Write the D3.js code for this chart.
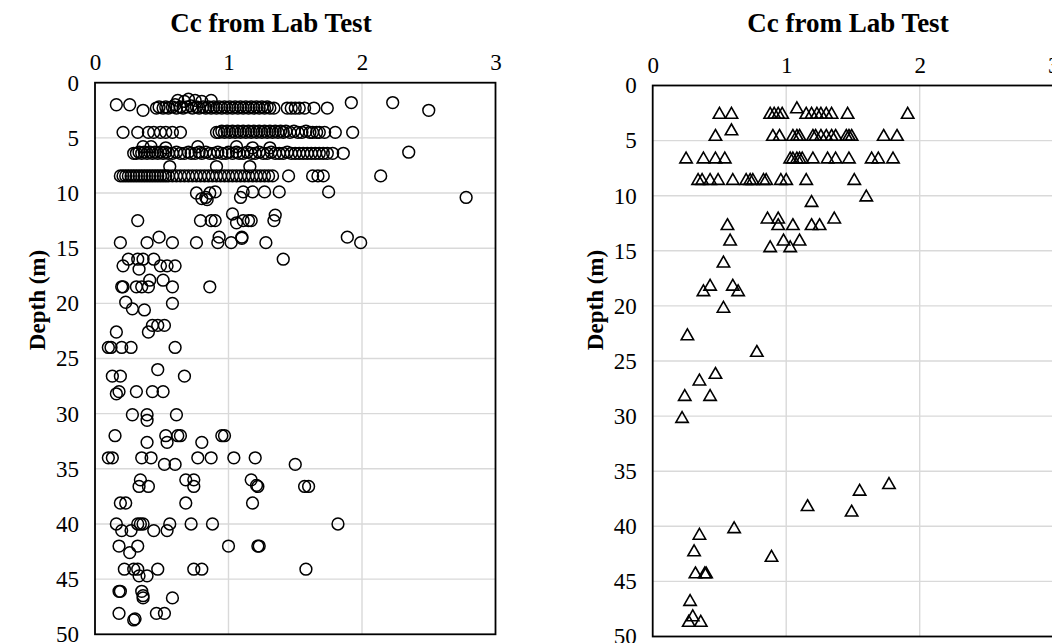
<!DOCTYPE html>
<html>
<head>
<meta charset="utf-8">
<script src="https://cdn.jsdelivr.net/npm/d3@7"></script>
<style>
  html, body { margin: 0; padding: 0; background: #fff; }
  svg { display: block; }
</style>
</head>
<body>
<svg id="chart" width="1052" height="643"></svg>
<script>
// ---------- DATA ----------
const xTicks = [0, 1, 2, 3];
const yTicks = [0, 5, 10, 15, 20, 25, 30, 35, 40, 45, 50];
const chartTitle = "Cc from Lab Test";
const yTitle = "Depth (m)";

// Left panel: [Cc, depth (m)]
const labCircles = [
  // ~2 m
  [0.16,2.0],[0.26,2.0],[0.36,2.5],[0.46,2.3],[0.48,2.2],[0.51,2.3],[0.53,2.2],[0.55,2.3],[0.58,2.2],[0.60,2.0],
  [0.62,1.6],[0.61,2.3],[0.64,2.2],[0.66,2.3],[0.67,1.7],[0.69,2.2],[0.70,1.5],[0.72,2.1],[0.73,2.3],[0.75,1.6],
  [0.76,2.2],[0.78,2.3],[0.80,1.7],[0.81,2.2],[0.83,2.3],[0.85,2.2],[0.87,1.6],[0.87,2.3],[0.89,2.2],[0.91,2.3],
  [0.93,2.2],[0.95,2.3],[0.97,2.2],[0.99,2.3],[1.01,2.2],[1.03,2.3],[1.05,2.2],[1.07,2.3],[1.09,2.2],[1.11,2.3],
  [1.13,2.2],[1.15,2.3],[1.17,2.2],[1.19,2.3],[1.21,2.2],[1.23,2.3],[1.25,2.2],[1.27,2.3],[1.29,2.2],[1.31,2.3],
  [1.34,2.3],[1.44,2.3],[1.47,2.3],[1.50,2.3],[1.53,2.3],[1.57,2.3],[1.64,2.3],[1.74,2.3],
  [1.92,1.8],[2.23,1.8],[2.50,2.5],
  // ~4.5 m
  [0.21,4.5],[0.32,4.5],[0.40,4.5],[0.44,4.5],[0.49,4.5],[0.53,4.5],[0.58,4.5],[0.64,4.5],[0.91,4.5],[0.93,4.5],
  [0.95,4.4],[0.97,4.5],[0.99,4.4],[1.01,4.5],[1.03,4.4],[1.05,4.5],[1.07,4.4],[1.09,4.5],[1.11,4.4],[1.13,4.5],
  [1.15,4.4],[1.17,4.5],[1.19,4.4],[1.21,4.5],[1.23,4.4],[1.25,4.5],[1.27,4.4],[1.29,4.5],[1.31,4.4],[1.33,4.5],
  [1.35,4.4],[1.37,4.5],[1.39,4.4],[1.41,4.5],[1.43,4.4],[1.46,4.5],[1.49,4.4],[1.52,4.5],[1.55,4.5],[1.58,4.4],
  [1.61,4.5],[1.63,4.5],[1.66,4.5],[1.68,4.5],[1.72,4.5],[1.80,4.5],[1.93,4.5],
  // ~6.4 m
  [0.29,6.4],[0.31,6.4],[0.33,6.3],[0.36,5.8],[0.35,6.4],[0.37,6.3],[0.39,6.4],[0.41,6.3],[0.42,5.8],[0.43,6.4],
  [0.45,6.3],[0.47,6.4],[0.49,6.3],[0.51,6.4],[0.53,5.9],[0.53,6.3],[0.55,6.4],[0.58,6.4],[0.61,6.3],[0.64,6.4],
  [0.67,6.4],[0.70,6.3],[0.72,6.4],[0.75,6.4],[0.77,5.8],[0.78,6.3],[0.80,6.4],[0.83,6.3],[0.86,6.4],[0.89,6.4],
  [0.92,6.3],[0.95,6.4],[0.98,6.4],[1.00,6.3],[1.03,6.4],[1.06,5.8],[1.06,6.3],[1.08,6.4],[1.11,6.4],[1.14,6.3],
  [1.18,5.9],[1.17,6.4],[1.20,6.4],[1.23,6.3],[1.26,6.4],[1.29,6.4],[1.31,5.9],[1.32,6.3],[1.35,6.4],[1.38,6.4],
  [1.41,6.4],[1.44,6.3],[1.47,6.4],[1.50,6.4],[1.53,6.4],[1.56,6.4],[1.59,6.4],[1.62,6.4],[1.65,6.4],[1.68,6.4],
  [1.71,6.4],[1.74,6.4],[1.78,6.4],[1.86,6.4],[2.35,6.3],
  // ~8.4 m
  [0.19,8.45],[0.21,8.45],[0.23,8.45],[0.25,8.45],[0.27,8.45],[0.29,8.45],[0.31,8.45],[0.33,8.45],[0.35,8.45],[0.37,8.45],
  [0.39,8.45],[0.41,8.45],[0.43,8.45],[0.45,8.45],[0.47,8.45],[0.49,8.45],[0.51,8.45],[0.53,8.45],[0.56,7.6],[0.55,8.45],
  [0.58,8.45],[0.61,8.45],[0.64,8.45],[0.67,8.45],[0.70,8.45],[0.73,8.45],[0.76,8.45],[0.79,8.45],[0.82,8.45],[0.85,8.45],
  [0.88,8.45],[0.91,7.6],[0.91,8.45],[0.94,8.45],[0.97,8.45],[1.00,8.45],[1.03,8.45],[1.06,8.45],[1.09,8.45],[1.12,8.45],
  [1.16,7.6],[1.15,8.45],[1.18,8.45],[1.21,8.45],[1.24,8.45],[1.27,8.45],[1.30,8.45],[1.33,8.45],[1.45,8.45],[1.63,8.45],
  [1.67,8.45],[1.71,8.45],[2.14,8.45],
  // ~10 m
  [0.76,10.0],[0.80,10.5],[0.83,10.4],[0.86,10.0],[0.90,9.9],[0.84,10.6],[1.09,10.4],[1.11,9.9],[1.18,9.9],[1.27,9.9],
  [1.38,9.9],[1.75,9.9],[2.78,10.4],
  [0.32,12.5],[0.79,12.5],[0.87,12.5],[0.90,12.5],[1.03,11.9],[1.06,12.7],[1.11,12.5],[1.15,12.5],[1.17,12.5],[1.35,12.0],
  [1.34,12.5],
  [0.19,14.5],[0.39,14.5],[0.48,14.0],[0.58,14.5],[0.76,14.5],[0.93,14.0],[0.92,14.5],[1.02,14.5],[1.10,14.0],[1.10,14.1],
  [1.28,14.5],[1.89,14.0],[1.99,14.5],[1.41,16.0],
  [0.25,16.0],[0.21,16.6],[0.32,16.0],[0.36,16.0],[0.33,16.9],[0.44,16.0],[0.49,16.6],[0.54,16.6],[0.60,16.6],
  [0.20,18.5],[0.21,18.5],[0.31,18.5],[0.35,18.5],[0.40,18.5],[0.41,17.9],[0.51,17.9],[0.58,18.5],[0.86,18.5],
  [0.23,19.9],[0.28,20.5],[0.37,20.6],[0.58,20.0],
  [0.16,22.6],[0.40,22.6],[0.43,22.0],[0.47,22.0],[0.52,22.0],
  [0.10,24.0],[0.12,24.0],[0.20,24.0],[0.27,24.0],[0.60,24.0],
  [0.13,26.6],[0.19,26.6],[0.47,26.0],[0.67,26.6],
  [0.16,28.2],[0.18,28.0],[0.31,28.0],[0.43,28.0],[0.51,28.0],
  [0.28,30.1],[0.39,30.1],[0.39,30.6],[0.61,30.1],
  [0.15,32.0],[0.39,32.6],[0.53,32.0],[0.54,32.6],[0.62,32.0],[0.64,32.0],[0.80,32.6],[0.95,32.0],[0.97,32.0],
  [0.10,34.0],[0.13,34.0],[0.35,34.0],[0.42,34.0],[0.52,34.6],[0.60,34.6],[0.77,34.0],[0.87,34.0],[1.04,34.0],[1.20,34.0],
  [1.50,34.6],
  [0.34,36.0],[0.33,36.6],[0.40,36.6],[0.68,36.0],[0.74,36.0],[0.74,36.6],[1.17,36.0],[1.21,36.5],[1.22,36.6],[1.57,36.6],
  [1.60,36.6],
  [0.19,38.1],[0.23,38.1],[0.68,38.1],[1.18,38.1],
  [0.16,40.0],[0.20,40.6],[0.27,40.6],[0.32,40.0],[0.34,40.0],[0.36,40.0],[0.44,40.6],[0.54,40.6],[0.56,40.0],[0.72,40.0],
  [0.88,40.0],[1.82,40.0],
  [0.18,42.0],[0.26,42.6],[0.32,42.0],[1.00,42.0],[1.22,42.0],[1.23,42.0],
  [0.22,44.1],[0.29,44.1],[0.32,44.1],[0.33,44.7],[0.39,44.7],[0.47,44.1],[0.74,44.1],[0.80,44.1],[1.58,44.1],
  [0.18,46.1],[0.19,46.1],[0.35,46.1],[0.36,46.7],[0.36,46.5],[0.58,46.7],
  [0.18,48.1],[0.29,48.7],[0.30,48.6],[0.46,48.1],[0.52,48.1]
];

// Right panel: [Cc, depth (m)]
const labTriangles = [
  [0.50,2.5],[0.59,2.5],[0.88,2.5],[0.91,2.5],[0.94,2.5],[0.97,2.5],[1.08,2.0],[1.15,2.5],[1.19,2.5],[1.23,2.5],
  [1.26,2.5],[1.30,2.5],[1.34,2.5],[1.46,2.5],[1.91,2.5],
  [0.47,4.5],[0.59,4.0],[0.90,4.5],[0.95,4.5],[1.05,4.5],[1.08,4.5],[1.10,4.5],[1.20,4.5],[1.22,4.5],[1.26,4.5],
  [1.30,4.5],[1.34,4.5],[1.37,4.5],[1.45,4.5],[1.47,4.5],[1.49,4.5],[1.73,4.5],[1.83,4.5],
  [0.25,6.55],[0.38,6.55],[0.47,6.55],[0.54,6.55],[1.03,6.55],[1.05,6.55],[1.08,6.55],[1.10,6.55],[1.12,6.55],[1.20,6.55],
  [1.31,6.55],[1.37,6.55],[1.47,6.55],[1.64,6.55],[1.69,6.55],[1.80,6.55],
  [0.34,8.5],[0.37,8.5],[0.43,8.5],[0.49,8.5],[0.60,8.5],[0.70,8.5],[0.73,8.5],[0.75,8.5],[0.83,8.5],[0.85,8.5],
  [0.96,8.5],[1.00,8.5],[1.15,8.5],[1.51,8.5],
  [1.60,10.0],[1.19,10.5],
  [0.86,12.0],[0.94,12.0],[0.94,12.6],[1.05,12.6],[1.19,12.6],[1.25,12.6],[1.36,12.0],[0.56,12.6],
  [0.58,14.0],[0.88,14.6],[0.98,14.0],[1.03,14.6],[1.10,14.0],[0.53,16.0],
  [0.43,18.1],[0.38,18.6],[0.60,18.1],[0.64,18.6],[0.53,20.1],[0.26,22.6],[0.78,24.1],
  [0.47,26.1],[0.35,26.7],[0.24,28.1],[0.43,28.1],[0.22,30.1],
  [1.77,36.1],[1.55,36.7],[1.16,38.1],[1.49,38.6],
  [0.61,40.1],[0.35,40.7],[0.31,42.2],[0.89,42.7],[0.32,44.2],[0.39,44.2],[0.40,44.2],
  [0.28,46.7],[0.30,48.1],[0.27,48.6],[0.36,48.6]
];

// ---------- DRAW ----------
const svg = d3.select("#chart");
const FONT = "'Liberation Serif', 'Times New Roman', serif";

const panels = [
  { data: labCircles, marker: "circle",   x0: 95,    x1: 495.5,  y0: 82.7, y1: 634.3, titleX: 271, yTitleX: 40 },
  { data: labTriangles, marker: "triangle", x0: 652.7, x1: 1053.2, y0: 85.5, y1: 636.5, titleX: 848, yTitleX: 598 }
];

panels.forEach(p => {
  const x = d3.scaleLinear().domain([0, 3]).range([p.x0, p.x1]);
  const y = d3.scaleLinear().domain([0, 50]).range([p.y0, p.y1]);
  const g = svg.append("g");

  // gridlines
  g.append("g").selectAll("line").data(xTicks.filter(t => t > 0 && t < 3)).join("line")
    .attr("x1", d => x(d)).attr("x2", d => x(d)).attr("y1", p.y0).attr("y2", p.y1)
    .attr("stroke", "#d9d9d9").attr("stroke-width", 1.4);
  g.append("g").selectAll("line").data(yTicks.filter(t => t > 0 && t < 50)).join("line")
    .attr("x1", p.x0).attr("x2", p.x1).attr("y1", d => y(d)).attr("y2", d => y(d))
    .attr("stroke", "#d9d9d9").attr("stroke-width", 1.4);

  // axes (labels only)
  const xAxis = d3.axisTop(x).tickValues(xTicks).tickSize(0).tickPadding(13).tickFormat(d3.format("d"));
  const gx = g.append("g").attr("transform", `translate(0,${p.y0})`).call(xAxis);
  gx.select(".domain").remove();
  gx.selectAll("text").attr("font-family", FONT).attr("font-size", 23).attr("fill", "#000");

  const yAxis = d3.axisLeft(y).tickValues(yTicks).tickSize(0).tickPadding(16).tickFormat(d3.format("d"));
  const gy = g.append("g").attr("transform", `translate(${p.x0},0)`).call(yAxis);
  gy.select(".domain").remove();
  gy.selectAll("text").attr("font-family", FONT).attr("font-size", 23).attr("fill", "#000");

  // markers
  const mg = g.append("g");
  if (p.marker === "circle") {
    mg.selectAll("circle").data(p.data).join("circle")
      .attr("cx", d => x(d[0])).attr("cy", d => y(d[1])).attr("r", 5.9)
      .attr("fill", "none").attr("stroke", "#000").attr("stroke-width", 1.5);
  } else {
    const tri = "M0,-5.6L6.2,5.2L-6.2,5.2Z";
    mg.selectAll("path").data(p.data).join("path")
      .attr("d", tri).attr("transform", d => `translate(${x(d[0])},${y(d[1])})`)
      .attr("fill", "none").attr("stroke", "#000").attr("stroke-width", 1.6).attr("stroke-linejoin", "miter");
  }

  // border
  g.append("rect").attr("x", p.x0).attr("y", p.y0).attr("width", p.x1 - p.x0).attr("height", p.y1 - p.y0)
    .attr("fill", "none").attr("stroke", "#000").attr("stroke-width", 1.8);

  // titles
  g.append("text").attr("x", p.titleX).attr("y", 32).attr("text-anchor", "middle")
    .attr("font-family", FONT).attr("font-weight", "bold").attr("font-size", 27).text(chartTitle);
  g.append("text").attr("transform", `translate(${p.yTitleX},300) rotate(-90)`).attr("text-anchor", "middle")
    .attr("dominant-baseline", "middle")
    .attr("font-family", FONT).attr("font-weight", "bold").attr("font-size", 23).text(yTitle);
});
</script>
</body>
</html>
